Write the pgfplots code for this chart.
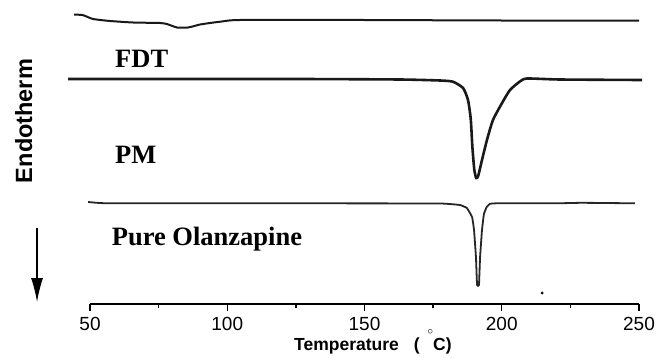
\documentclass[border=0pt]{standalone}
\usepackage{pgfplots}
\pgfplotsset{compat=1.18}
\usetikzlibrary{arrows.meta}
\usepackage{fontspec}
\setmainfont{Liberation Serif}
\newfontfamily\arial{Liberation Sans}
\begin{document}
\begin{tikzpicture}
\begin{axis}[
  x=2.745pt, y=1pt,
  xmin=50, xmax=250, ymin=53, ymax=344,
  axis x line*=bottom, axis y line=none,
  clip=false,
  xtick={50,100,150,200,250},
  minor xtick={75,125,175,225},
  tick align=outside,
  major tick length=7pt, minor tick length=4pt,
  every tick/.style={line width=1.4pt, black},
  axis line style={line width=1.5pt, black},
  xticklabel style={font=\arial\fontsize{19}{20}\selectfont, inner sep=0pt, anchor=north, yshift=-6pt},
  /pgf/number format/assume math mode=true,
  ytick=\empty,
]
% invisible frame fixing the picture size
\path (axis cs:17.21,0) rectangle (axis cs:256.92,357);

% FDT
\addplot[line width=2pt, black!90, smooth, tension=0.3] coordinates {
(44.2,342.3) (47.3,342) (51.1,338) (57.3,336) (65.7,334.5) (75.5,334) (78,333)
(81.7,329.5) (85.7,329.5) (88,331) (90.1,332.5) (93.7,334) (98,335.5) (104.6,337)
(150,337) (200,336.5) (250,336.5)};

% PM
\addplot[line width=2.6pt, black!90, smooth, tension=0.35] coordinates {
(42.0,278) (90.1,278) (126.5,278) (162.9,277.5) (177.5,276.5) (182.2,275.3)
(185.9,269) (187.7,257) (188.7,238) (189.3,210) (190.0,187) (190.7,179) (191.4,181)
(192.8,197) (194.6,217) (196.8,237) (200.1,254) (203.0,267) (206.6,275.5)
(209.2,278.5) (221.2,277.5) (251.1,277)};

% Pure Olanzapine
\addplot[line width=1.8pt, black!85, smooth, tension=0.15] coordinates {
(49.3,155) (56.6,153.7) (126.5,153.7) (177.5,153.5) (184.8,152) (187.3,149)
(189.2,140) (189.9,127) (190.6,100) (191.0,72) (191.7,72) (192.1,100)
(192.8,127) (193.5,143) (194.5,150) (195.7,153.2) (198,153.7) (220,153.7) (229,154.2) (248.5,153.7)};

% artefact dot
\addplot[only marks, mark=*, mark size=1.3pt, black] coordinates {(214.7,64)};

% curve labels
\node[anchor=base west, inner sep=0pt, font=\bfseries\fontsize{26.5}{30}\selectfont] at (axis cs:59.1,290) {FDT};
\node[anchor=base west, inner sep=0pt, font=\bfseries\fontsize{26.5}{30}\selectfont] at (axis cs:59.1,194) {PM};
\node[anchor=base west, inner sep=0pt, font=\bfseries\fontsize{26.5}{30}\selectfont] at (axis cs:57.9,112) {Pure Olanzapine};

% y label and arrow
\node[anchor=base, inner sep=0pt, rotate=90, font=\arial\bfseries\fontsize{23.5}{26}\selectfont] at (axis cs:28.87,236) {Endotherm};
\draw[line width=1.3pt, -{Latex[length=24pt,width=12pt]}] (axis cs:30.7,129) -- (axis cs:30.7,55);

% x label
\node[anchor=base west, inner sep=0pt, font=\arial\bfseries\fontsize{17.5}{20}\selectfont] at (axis cs:124.3,7)
  {Temperature\hspace{15pt}(\hspace{8pt}\raisebox{16pt}{\fontsize{11}{11}\selectfont$\circ$}C)};
\end{axis}
\end{tikzpicture}
\end{document}
